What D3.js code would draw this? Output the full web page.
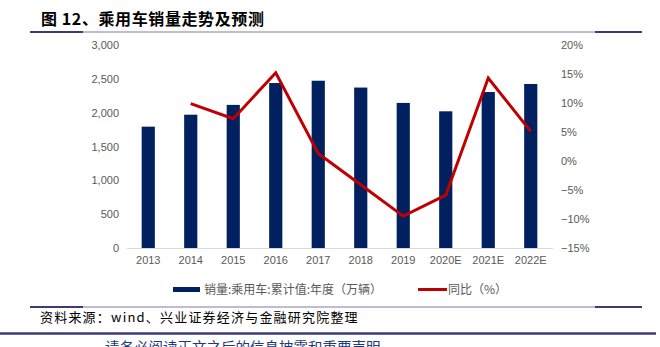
<!DOCTYPE html>
<html>
<head>
<meta charset="utf-8">
<script src="https://cdn.jsdelivr.net/npm/d3@7"></script>
<style>
  html, body { margin: 0; padding: 0; background: #fff; }
  svg { display: block; }
  text { font-family: "Liberation Sans", Arial, sans-serif; }
  .cjk { font-family: "Noto Sans CJK SC", sans-serif; }
</style>
</head>
<body>
<svg id="chart" width="660" height="347"></svg>
<script>
// Passenger car sales (10k units) and year-over-year growth (%)
const years = ["2013", "2014", "2015", "2016", "2017", "2018", "2019", "2020E", "2021E", "2022E"];
const sales = [1793, 1970, 2115, 2438, 2472, 2371, 2144, 2020, 2305, 2424];
const yoy = [null, 9.9, 7.3, 15.2, 1.3, -4.1, -9.5, -5.9, 14.3, 5.1];
const leftTicks = [0, 500, 1000, 1500, 2000, 2500, 3000];
const rightTicks = [-15, -10, -5, 0, 5, 10, 15, 20];

const svg = d3.select("#chart");
const navy = "#00205f";
const red = "#c00000";
const rule = "#3b3b7a";

// Header title and rule
svg.append("text").attr("class", "cjk")
  .attr("x", 41).attr("y", 25)
  .attr("font-size", 16).attr("font-weight", "bold").attr("fill", "#000")
  .attr("letter-spacing", 0.6)
  .text("图 12、乘用车销量走势及预测");

function headerRule(y) {
  svg.append("line").attr("x1", 30).attr("x2", 642).attr("y1", y).attr("y2", y)
    .attr("stroke", "#7a7aa8").attr("stroke-width", 1);
  svg.append("line").attr("x1", 30).attr("x2", 83).attr("y1", y).attr("y2", y)
    .attr("stroke", rule).attr("stroke-width", 2);
  svg.append("line").attr("x1", 595).attr("x2", 642).attr("y1", y).attr("y2", y)
    .attr("stroke", rule).attr("stroke-width", 2);
}
headerRule(32);

// Plot area
const x = d3.scaleBand().domain(years).range([127, 552]).paddingInner(0.69).paddingOuter(0.345);
const yL = d3.scaleLinear().domain([0, 3000]).range([248, 45]);
const yR = d3.scaleLinear().domain([-15, 20]).range([248, 45]);

// Bars
svg.append("g").selectAll("rect").data(years).join("rect")
  .attr("x", d => x(d))
  .attr("width", x.bandwidth())
  .attr("y", (d, i) => yL(sales[i]))
  .attr("height", (d, i) => yL(0) - yL(sales[i]))
  .attr("fill", navy);

// Baseline
svg.append("line").attr("x1", 127).attr("x2", 553).attr("y1", 248.5).attr("y2", 248.5)
  .attr("stroke", "#d9d9d9").attr("stroke-width", 1);

// Left axis
const axL = svg.append("g").attr("transform", "translate(119,0)")
  .call(d3.axisLeft(yL).tickValues(leftTicks).tickSize(0).tickPadding(0).tickFormat(d3.format(",")));
axL.select(".domain").remove();
axL.selectAll("text").attr("font-size", 11).attr("fill", "#595959")
  .attr("font-family", "'Liberation Sans', Arial, sans-serif");

// Right axis
const axR = svg.append("g").attr("transform", "translate(561,0)")
  .call(d3.axisRight(yR).tickValues(rightTicks).tickSize(0).tickPadding(0)
    .tickFormat(d => (d < 0 ? "\u2212" + Math.abs(d) : d) + "%"));
axR.select(".domain").remove();
axR.selectAll("text").attr("font-size", 11).attr("fill", "#595959")
  .attr("font-family", "'Liberation Sans', Arial, sans-serif");

// Category axis
const axX = svg.append("g").attr("transform", "translate(0,256)")
  .call(d3.axisBottom(x).tickSize(0).tickPadding(0));
axX.select(".domain").remove();
axX.selectAll("text").attr("font-size", 11).attr("fill", "#595959")
  .attr("font-family", "'Liberation Sans', Arial, sans-serif");

// YoY line
const line = d3.line()
  .defined(d => d[1] !== null)
  .x(d => x(d[0]) + x.bandwidth() / 2)
  .y(d => yR(d[1]));
svg.append("path")
  .datum(years.map((y, i) => [y, yoy[i]]))
  .attr("d", line)
  .attr("fill", "none").attr("stroke", red).attr("stroke-width", 3)
  .attr("stroke-linejoin", "miter");

// Legend
const lg = svg.append("g");
lg.append("rect").attr("x", 173).attr("y", 287).attr("width", 27).attr("height", 5).attr("fill", navy);
lg.append("text").attr("class", "cjk").attr("x", 204).attr("y", 294)
  .attr("font-size", 12).attr("fill", "#595959").text("销量:乘用车:累计值:年度（万辆）");
lg.append("line").attr("x1", 418).attr("x2", 447).attr("y1", 289.5).attr("y2", 289.5)
  .attr("stroke", red).attr("stroke-width", 3);
lg.append("text").attr("class", "cjk").attr("x", 448).attr("y", 294)
  .attr("font-size", 12).attr("fill", "#595959").text("同比（%）");

// Source note and footer
headerRule(307);
svg.append("text").attr("class", "cjk").attr("x", 40).attr("y", 322)
  .attr("font-size", 13).attr("letter-spacing", 1.2).attr("fill", "#000")
  .text("资料来源：wind、兴业证券经济与金融研究院整理");
svg.append("line").attr("x1", 0).attr("x2", 656).attr("y1", 333.5).attr("y2", 333.5)
  .attr("stroke", rule).attr("stroke-width", 2.5);
svg.append("text").attr("class", "cjk").attr("x", 105).attr("y", 353)
  .attr("font-size", 14.5).attr("fill", "#1f3a7a").text("请务必阅读正文之后的信息披露和重要声明");
</script>
</body>
</html>
